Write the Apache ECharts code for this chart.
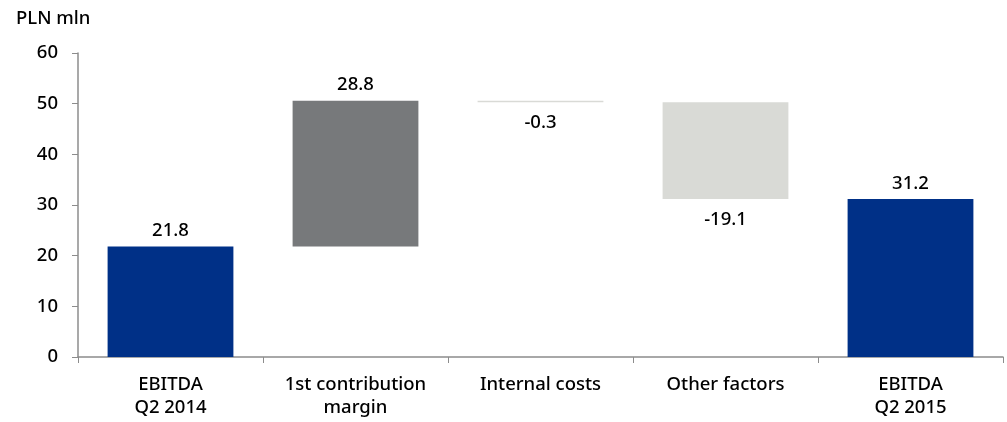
<!DOCTYPE html>
<html>
<head>
<meta charset="utf-8">
<script src="https://cdn.jsdelivr.net/npm/echarts@6/dist/echarts.min.js"></script>
<style>
  html, body { margin: 0; padding: 0; background: #fff; }
  #chart { width: 1007px; height: 422px; }
</style>
</head>
<body>
<div id="chart"></div>
<script>
const categories = ['EBITDA\nQ2 2014', '1st contribution\nmargin', 'Internal costs', 'Other factors', 'EBITDA\nQ2 2015'];
const changes = [21.8, 28.8, -0.3, -19.1, 31.2];
const isTotal = [true, false, false, false, true];
const barColors = ['#003087', '#77797b', '#d9dad6', '#d9dad6', '#003087'];
const yTicks = [0, 10, 20, 30, 40, 50, 60];

// waterfall: invisible base + visible piece
let running = 0;
const base = [];
const visible = [];
changes.forEach((v, i) => {
    if (isTotal[i]) {
        base.push(0);
        visible.push(v);
        running = v;
    } else {
        const end = running + v;
        base.push(Math.min(running, end));
        visible.push(Math.abs(v));
        running = end;
    }
});

const chart = echarts.init(document.getElementById('chart'));
const font = '"Noto Sans", sans-serif';
const fs = 18.5;
const fw = 500;

chart.setOption({
    animation: false,
    textStyle: { fontFamily: font },
    title: {
        text: 'PLN mln',
        left: 11,
        top: 4,
        textStyle: { fontSize: fs, fontWeight: fw, color: '#000', fontFamily: font },
    },
    grid: { left: 78, right: 4, top: 53, bottom: 65 },
    xAxis: {
        type: 'category',
        data: categories,
        axisLine: { lineStyle: { color: '#8c8c8c', width: 1.5 } },
        axisTick: { show: true, length: 6, lineStyle: { color: '#8c8c8c' } },
        axisLabel: { color: '#000', fontSize: fs, fontWeight: fw, lineHeight: 23, margin: 16, interval: 0 },
    },
    yAxis: {
        type: 'value',
        min: yTicks[0],
        max: yTicks[yTicks.length - 1],
        interval: 10,
        splitLine: { show: false },
        axisLine: { show: true, lineStyle: { color: '#8c8c8c', width: 1.5 } },
        axisTick: { show: true, length: 6, lineStyle: { color: '#8c8c8c' } },
        axisLabel: { color: '#000', fontSize: fs, fontWeight: fw, margin: 20 },
    },
    series: [
        {
            type: 'bar',
            stack: 'wf',
            data: base,
            itemStyle: { color: 'transparent' },
            barWidth: '68%',
            silent: true,
        },
        {
            type: 'bar',
            stack: 'wf',
            barWidth: '68%',
            data: visible.map((v, i) => ({
                value: v,
                itemStyle: { color: barColors[i] },
                label: {
                    show: true,
                    position: changes[i] < 0 ? 'bottom' : 'top',
                    distance: changes[i] < 0 ? 11 : 6,
                    formatter: changes[i].toFixed(1),
                    color: '#000',
                    fontSize: fs,
                    fontWeight: fw,
                },
            })),
        },
    ],
});
</script>
</body>
</html>
